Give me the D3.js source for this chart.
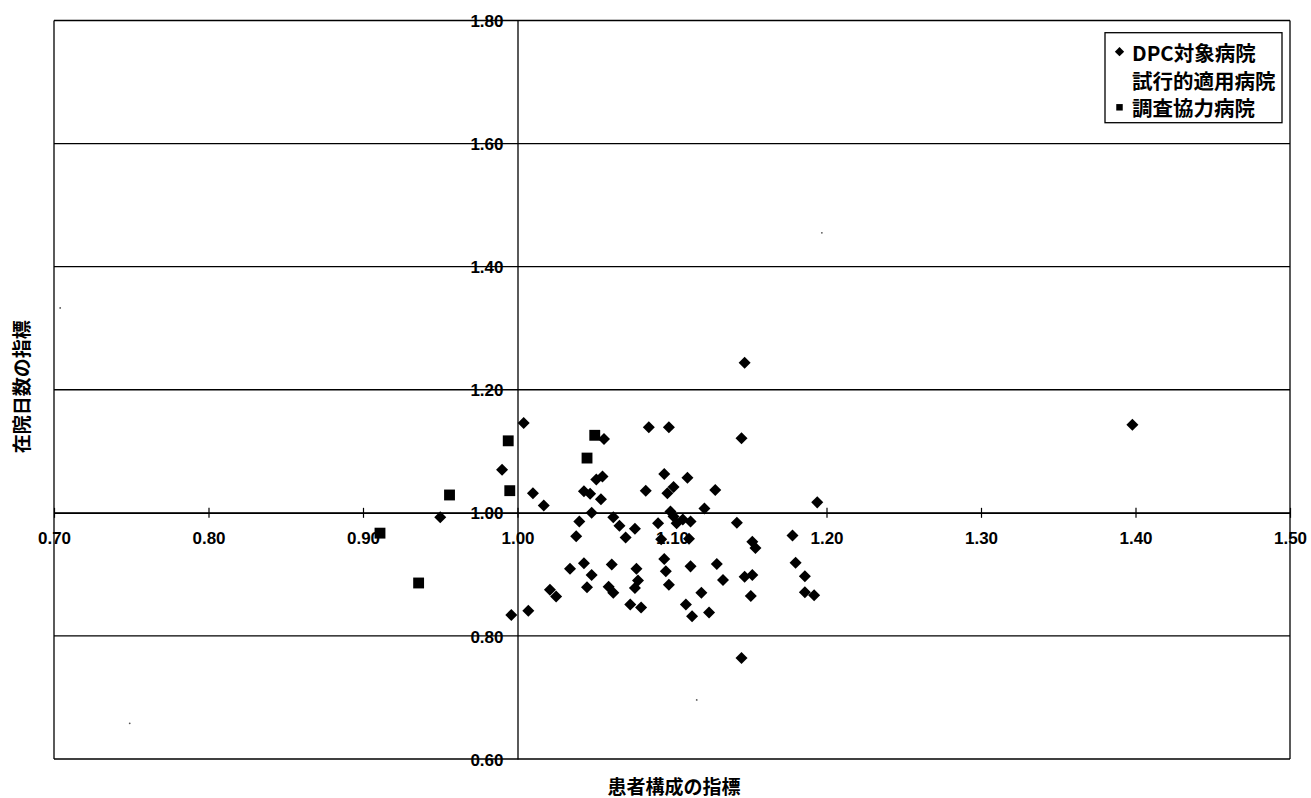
<!DOCTYPE html>
<html>
<head>
<meta charset="utf-8">
<script src="https://cdn.jsdelivr.net/npm/d3@7"></script>
<style>
  html, body { margin: 0; padding: 0; background: #fff; }
  svg { display: block; }
</style>
</head>
<body>
<svg id="chart" width="1311" height="798"></svg>
<script>
// ---- data ----
const xTicks = [0.70, 0.80, 0.90, 1.00, 1.10, 1.20, 1.30, 1.40, 1.50];
const yTicks = [0.60, 0.80, 1.00, 1.20, 1.40, 1.60, 1.80];

const seriesNames = ["DPC対象病院", "試行的適用病院", "調査協力病院"];

// DPC対象病院 (diamonds)
const dpcX = [1.004, 0.990, 0.950, 1.010, 1.017, 0.996, 1.007, 1.021, 1.025, 1.034,
              1.038, 1.040, 1.043, 1.048, 1.045, 1.048, 1.043, 1.047, 1.051, 1.147,
              1.085, 1.098, 1.145, 1.056, 1.055, 1.054, 1.095, 1.110, 1.083, 1.097,
              1.101, 1.128, 1.121, 1.194, 1.062, 1.066, 1.076, 1.070, 1.091, 1.099,
              1.101, 1.103, 1.107, 1.112, 1.111, 1.093, 1.142, 1.152, 1.154, 1.178,
              1.095, 1.096, 1.098, 1.061, 1.059, 1.062, 1.077, 1.078, 1.076, 1.073,
              1.080, 1.112, 1.129, 1.133, 1.119, 1.109, 1.113, 1.124, 1.147, 1.152,
              1.151, 1.180, 1.186, 1.186, 1.192, 1.145, 1.398];
const dpcY = [1.146, 1.070, 0.993, 1.032, 1.012, 0.834, 0.841, 0.875, 0.864, 0.909,
              0.962, 0.986, 0.918, 0.899, 0.879, 1.000, 1.035, 1.031, 1.054, 1.244,
              1.139, 1.139, 1.121, 1.120, 1.059, 1.022, 1.063, 1.057, 1.036, 1.032,
              1.042, 1.037, 1.007, 1.017, 0.993, 0.979, 0.974, 0.960, 0.983, 1.002,
              0.994, 0.983, 0.989, 0.986, 0.958, 0.957, 0.984, 0.953, 0.943, 0.963,
              0.925, 0.905, 0.883, 0.916, 0.880, 0.870, 0.909, 0.890, 0.878, 0.851,
              0.846, 0.913, 0.917, 0.891, 0.870, 0.851, 0.832, 0.838, 0.896, 0.899,
              0.865, 0.919, 0.897, 0.871, 0.866, 0.764, 1.143];

// 試行的適用病院 (very faint marks)
const trialX = [0.704, 0.749, 1.197, 1.116];
const trialY = [1.333, 0.658, 1.455, 0.696];

// 調査協力病院 (squares)
const chosaX = [0.994, 0.956, 0.995, 0.911, 0.936, 1.050, 1.045];
const chosaY = [1.117, 1.029, 1.036, 0.967, 0.886, 1.126, 1.089];

const xTitle = "患者構成の指標";
const yTitle = "在院日数の指標";

// ---- layout ----
const svg = d3.select("#chart");
const L = 54, R = 1290, T = 20.5, B = 759;
const x = d3.scaleLinear().domain([0.70, 1.50]).range([L, R]);
const y = d3.scaleLinear().domain([0.60, 1.80]).range([B, T]);
const numFont = "'Liberation Sans', Arial, sans-serif";
const jpFont = "'Noto Sans CJK JP', 'Noto Sans', sans-serif";

svg.append("rect").attr("width", 1311).attr("height", 798).attr("fill", "#fff");

// horizontal gridlines (include top and bottom borders)
svg.append("g").selectAll("line").data(yTicks).join("line")
  .attr("x1", L).attr("x2", R)
  .attr("y1", d => y(d)).attr("y2", d => y(d))
  .attr("stroke", "#000").attr("stroke-width", 1.3);

// left & right borders
svg.append("g").selectAll("line").data([0.70, 1.50]).join("line")
  .attr("x1", d => x(d)).attr("x2", d => x(d))
  .attr("y1", T).attr("y2", B)
  .attr("stroke", "#000").attr("stroke-width", 1.3);

// x axis (crossing at y=1.00)
const xAxis = svg.append("g")
  .attr("transform", `translate(0,${y(1.0)})`)
  .call(d3.axisBottom(x).tickValues(xTicks).tickSizeInner(5).tickSizeOuter(0)
        .tickFormat(d3.format(".2f")));
xAxis.select(".domain").attr("stroke", "#000").attr("stroke-width", 1.3);
xAxis.selectAll(".tick line").attr("y1", -5).attr("y2", 5).attr("stroke", "#000").attr("stroke-width", 1.2);
xAxis.selectAll(".tick text")
  .attr("y", 31).attr("dy", 0)
  .attr("font-family", numFont).attr("font-size", 17).attr("font-weight", "bold")
  .attr("fill", "#000");

// y axis (crossing at x=1.00)
const yAxis = svg.append("g")
  .attr("transform", `translate(${x(1.0)},0)`)
  .call(d3.axisLeft(y).tickValues(yTicks).tickSizeInner(0).tickSizeOuter(0)
        .tickPadding(14).tickFormat(d3.format(".2f")));
yAxis.select(".domain").attr("stroke", "#000").attr("stroke-width", 1.3);
yAxis.selectAll(".tick text")
  .attr("dy", "0.36em")
  .attr("font-family", numFont).attr("font-size", 17).attr("font-weight", "bold")
  .attr("fill", "#000");

// ---- points ----
const diamond = d3.symbol().type(d3.symbolDiamond2).size(92);
const square = d3.symbol().type(d3.symbolSquare).size(118);

const trial = trialX.map((v, i) => [v, trialY[i]]);
svg.append("g").selectAll("circle").data(trial).join("circle")
  .attr("cx", d => x(d[0])).attr("cy", d => y(d[1])).attr("r", 0.9)
  .attr("fill", "#555");

const dpc = dpcX.map((v, i) => [v, dpcY[i]]);
svg.append("g").selectAll("path").data(dpc).join("path")
  .attr("d", diamond)
  .attr("transform", d => `translate(${x(d[0])},${y(d[1])})`)
  .attr("fill", "#000");

const chosa = chosaX.map((v, i) => [v, chosaY[i]]);
svg.append("g").selectAll("path").data(chosa).join("path")
  .attr("d", square)
  .attr("transform", d => `translate(${x(d[0])},${y(d[1])})`)
  .attr("fill", "#000");

// ---- axis titles ----
svg.append("text")
  .attr("x", (L + R) / 2 + 2).attr("y", 785)
  .attr("text-anchor", "middle").attr("dominant-baseline", "central")
  .attr("font-family", jpFont).attr("font-size", 19).attr("font-weight", "bold")
  .text(xTitle);

svg.append("text")
  .attr("transform", `translate(20,${(T + B) / 2 - 3}) rotate(-90)`)
  .attr("text-anchor", "middle").attr("dominant-baseline", "central")
  .attr("font-family", jpFont).attr("font-size", 19).attr("font-weight", "bold")
  .text(yTitle);

// ---- legend ----
const lg = svg.append("g");
lg.append("rect")
  .attr("x", 1105).attr("y", 32.7).attr("width", 177).attr("height", 90)
  .attr("fill", "#fff").attr("stroke", "#000").attr("stroke-width", 1.3);
const rowsY = [51.7, 80, 107.3];
const legendSym = [
  d3.symbol().type(d3.symbolDiamond2).size(55)(),
  null,
  d3.symbol().type(d3.symbolSquare).size(42)()
];
seriesNames.forEach((name, i) => {
  if (legendSym[i]) {
    lg.append("path").attr("d", legendSym[i])
      .attr("transform", `translate(1119.5,${rowsY[i]})`).attr("fill", "#000");
  }
  lg.append("text")
    .attr("x", 1132).attr("y", rowsY[i])
    .attr("dominant-baseline", "central")
    .attr("font-family", jpFont).attr("font-size", 20.5).attr("font-weight", "bold")
    .attr("fill", "#000")
    .text(name);
});
</script>
</body>
</html>
